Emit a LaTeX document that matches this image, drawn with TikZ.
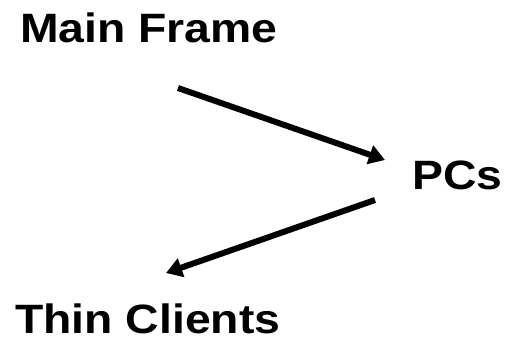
\documentclass[tikz,border=0pt]{standalone}
\usepackage{fontspec}
\setmainfont{Liberation Sans}[FakeStretch=1.13]
\usetikzlibrary{arrows.meta}

\definecolor{flowblack}{RGB}{0,0,0}

\begin{document}
\begin{tikzpicture}[x=1pt, y=-1pt,
  font=\fontsize{41}{48}\selectfont\bfseries,
  label/.style={anchor=base west, inner sep=0pt, text=flowblack},
  flow/.style={flowblack, line width=6pt, -{Triangle[length=16pt,width=19pt]}}]
  \useasboundingbox (0,0) rectangle (507,338);

  \node[label] (mainframe) at (20,42) {Main Frame};
  \node[label] (pcs) at (412,189) {PCs};
  \node[label] (thin) at (15,333) {Thin Clients};

  \coordinate (mf-out) at (178,88);
  \coordinate (pc-in) at (385,160);
  \coordinate (pc-out) at (375,200);
  \coordinate (tc-in) at (166,273);

  \draw[flow] (mf-out) -- (pc-in);
  \draw[flow] (pc-out) -- (tc-in);
\end{tikzpicture}
\end{document}
